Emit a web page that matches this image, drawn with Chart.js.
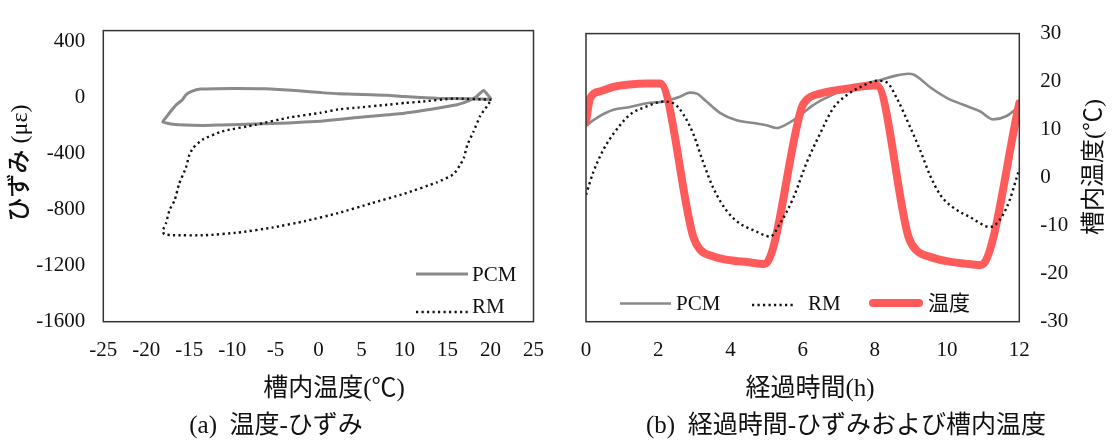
<!DOCTYPE html>
<html>
<head>
<meta charset="utf-8">
<script src="https://cdn.jsdelivr.net/npm/chart.js@4/dist/chart.umd.min.js"></script>
<style>
  html, body { margin: 0; padding: 0; background: #fff; }
  #wrap { position: relative; width: 1116px; height: 448px; overflow: hidden; }
  #wrap canvas { position: absolute; top: 0; }
  #cA { left: 0; }
  #cB { left: 560px; }
  .cap {
    position: absolute; top: 410px; line-height: 30px; white-space: nowrap;
    font-family: 'Liberation Serif', 'Noto Sans CJK JP', serif; font-size: 25px; color: #111;
    transform: translateX(-50%);
  }
</style>
</head>
<body>
<div id="wrap">
  <canvas id="cA" width="560" height="448"></canvas>
  <canvas id="cB" width="556" height="448"></canvas>
  <div class="cap" style="left:276px">(a)&nbsp; 温度-ひずみ</div>
  <div class="cap" style="left:846px">(b)&nbsp; 経過時間-ひずみおよび槽内温度</div>
</div>
<script>
// ---- (a) temperature vs strain loops ----
const pcmLoopTemp   = [20.1, 17.6, 13.8, 10.0, 8.0, 6.1, 4.2, 2.3, 0.3, -2.3, -6.2, -10.0, -13.7, -14.8, -15.4, -15.8, -16.5, -17.3, -17.7, -18.1,
                       -16.9, -13.5, -11.2, -7.3, -3.5, 0.3, 2.3, 6.1, 10.0, 13.8, 16.1, 17.6, 18.4, 19.2, 20.1];
const pcmLoopStrain = [-12, -7, -3, 9, 18, 21, 26, 28, 37, 50, 64, 67, 62, 44, 21, -14, -49, -107, -140, -171,
                       -190, -198, -194, -188, -180, -167, -155, -132, -110, -75, -50, -18, 10, 52, -12];
const rmLoopTemp    = [20.1, 15.7, 11.9, 10.0, 8.0, 4.2, 2.3, 0.3, -3.5, -7.3, -11.2, -13.5, -14.6, -15.0, -15.4, -16.2, -16.7, -17.3, -17.7, -18.1,
                       -17.9, -16.9, -13.1, -9.3, -5.4, -1.6, 2.3, 6.1, 10.0, 13.8, 15.7, 16.5, 16.9, 17.3, 18.0, 18.8, 19.6, 20.1];
const rmLoopStrain  = [-14, -6, -28, -37, -50, -72, -83, -107, -142, -193, -240, -300, -361, -408, -500, -616, -732, -801, -894, -951,
                       -975, -982, -982, -963, -928, -882, -824, -755, -685, -604, -547, -477, -431, -338, -246, -130, -60, -14];

// ---- (b) elapsed time series ----
const pcmHours  = [0, 0.30, 0.76, 1.22, 1.68, 2.14, 2.60, 2.88, 3.07, 3.34, 3.71, 4.17, 4.64, 5.0, 5.28, 5.56, 5.84, 6.30, 6.76, 7.22,
                   7.68, 8.14, 8.61, 8.93, 9.07, 9.53, 9.99, 10.45, 10.91, 11.28, 11.65, 12.0];
const pcmStrain = [-276, -226, -176, -159, -135, -125, -95, -69, -75, -125, -195, -242, -258, -272, -290, -266, -226, -145, -89, -45,
                   -15, 9, 39, 49, 45, -35, -101, -145, -185, -236, -215, -155];
const rmHours   = [0, 0.20, 0.48, 0.76, 1.22, 1.68, 2.14, 2.42, 2.70, 2.97, 3.25, 3.53, 3.90, 4.27, 4.64, 5.10, 5.37, 5.74, 6.11, 6.48,
                   6.85, 7.22, 7.68, 8.05, 8.33, 8.61, 8.98, 9.25, 9.53, 9.81, 10.17, 10.64, 11.19, 11.65, 12.0];
const rmStrain  = [-707, -567, -426, -326, -206, -155, -125, -135, -206, -326, -507, -667, -808, -888, -928, -968, -888, -727, -507, -326,
                   -165, -85, -25, 5, -5, -105, -286, -426, -587, -707, -787, -847, -908, -787, -547];
const tempHours = [0, 0.11, 0.40, 0.76, 1.20, 1.68, 2.05, 2.97, 3.16, 3.53, 3.99, 4.50, 4.91, 5.0, 5.97, 6.11, 6.48, 7.22, 7.96, 8.05,
                   8.93, 9.16, 9.53, 9.99, 10.50, 10.91, 11.0, 12.0];
const tempValue = [11.5, 16.5, 18.0, 18.9, 19.4, 19.6, 19.6, -12.3, -15.0, -16.4, -17.2, -17.6, -18.0, -17.8, 14.5, 16.2, 17.5, 18.5, 19.2, 19.2,
                   -12.3, -15.2, -16.5, -17.4, -17.9, -18.2, -18.0, 15.5];

// ---- tick labels ----
const strainTicks = [400, 0, -400, -800, -1200, -1600];
const loopTempTicks = [-25, -20, -15, -10, -5, 0, 5, 10, 15, 20, 25];
const hourTicks = [0, 2, 4, 6, 8, 10, 12];
const tempTicks = [30, 20, 10, 0, -10, -20, -30];

const SERIF = "'Liberation Serif', 'Noto Sans CJK JP', serif";
const TICK_FONT = { family: SERIF, size: 21 };
const INK = '#111';
const PCM_GRAY = '#8a8a8a';
const TEMP_RED = '#ff5b5b';

const pairs = (xs, ys) => xs.map((x, i) => ({ x, y: ys[i] }));
const fixTicks = list => scale => { scale.ticks = list.map(v => ({ value: v })); };
const plain = v => String(v);

// box around the plotting area
const framePlugin = {
  id: 'frame',
  afterDatasetsDraw(chart) {
    const { ctx, chartArea: a } = chart;
    ctx.save();
    ctx.strokeStyle = '#333';
    ctx.lineWidth = 1.5;
    ctx.strokeRect(a.left, a.top, a.right - a.left, a.bottom - a.top);
    ctx.restore();
  }
};

// series key drawn inside the plotting area
const keyPlugin = {
  id: 'key',
  afterDraw(chart, args, opts) {
    const ctx = chart.ctx;
    ctx.save();
    opts.items.forEach(it => {
      const ds = chart.data.datasets[it.index];
      ctx.beginPath();
      ctx.strokeStyle = ds.borderColor;
      ctx.lineWidth = it.width || ds.borderWidth;
      ctx.setLineDash(ds.borderDash || []);
      ctx.lineCap = it.cap || 'butt';
      ctx.moveTo(it.x1, it.y);
      ctx.lineTo(it.x2, it.y);
      ctx.stroke();
      ctx.setLineDash([]);
      ctx.fillStyle = INK;
      ctx.font = '21px ' + SERIF;
      ctx.textAlign = 'left';
      ctx.textBaseline = 'middle';
      ctx.fillText(ds.label, it.tx, it.ty);
    });
    ctx.restore();
  }
};

// axis titles
const titlePlugin = {
  id: 'axisTitles',
  afterDraw(chart, args, opts) {
    const ctx = chart.ctx;
    opts.items.forEach(t => {
      ctx.save();
      ctx.translate(t.x, t.y);
      ctx.rotate(t.rot || 0);
      ctx.fillStyle = INK;
      ctx.font = t.font;
      ctx.textAlign = 'center';
      ctx.textBaseline = 'middle';
      ctx.fillText(t.text, 0, 0);
      ctx.restore();
    });
  }
};

const common = {
  responsive: false,
  animation: false,
  events: [],
  plugins: { legend: { display: false }, tooltip: { enabled: false } }
};

// (a) temperature - strain
new Chart(document.getElementById('cA'), {
  type: 'line',
  data: {
    datasets: [
      { label: 'RM', data: pairs(rmLoopTemp, rmLoopStrain), borderColor: INK, borderWidth: 2.4,
        borderDash: [2.2, 3.3], pointRadius: 0, tension: 0.15, fill: false, order: 1 },
      { label: 'PCM', data: pairs(pcmLoopTemp, pcmLoopStrain), borderColor: PCM_GRAY, borderWidth: 3,
        pointRadius: 0, tension: 0.15, fill: false, order: 2 }
    ]
  },
  options: {
    ...common,
    layout: { padding: { top: 22.7, right: 22.7, left: 0, bottom: 0 } },
    scales: {
      x: {
        type: 'linear', position: 'bottom', min: -25, max: 25,
        afterBuildTicks: fixTicks(loopTempTicks),
        afterFit: s => { s.height = 126.3; },
        grid: { display: false, drawTicks: false }, border: { display: false },
        ticks: { font: TICK_FONT, color: INK, padding: 16, maxRotation: 0, autoSkip: false, callback: plain }
      },
      y: {
        type: 'linear', position: 'left', min: -1600, max: 480,
        afterBuildTicks: fixTicks(strainTicks),
        afterFit: s => { s.width = 103.3; },
        grid: { display: false, drawTicks: false }, border: { display: false },
        ticks: { font: TICK_FONT, color: INK, padding: 18, callback: plain }
      }
    },
    plugins: {
      ...common.plugins,
      key: { items: [
        { index: 1, x1: 416, x2: 468, y: 274, tx: 472, ty: 275 },
        { index: 0, x1: 416, x2: 468, y: 312, tx: 472, ty: 307 }
      ] },
      axisTitles: { items: [
        { text: 'ひずみ (με)', x: 21, y: 163, rot: -Math.PI / 2, font: '500 24px ' + SERIF },
        { text: '槽内温度(℃)', x: 334, y: 389, font: '25px ' + SERIF }
      ] }
    }
  },
  plugins: [framePlugin, keyPlugin, titlePlugin]
});

// (b) elapsed time - strain and chamber temperature
new Chart(document.getElementById('cB'), {
  type: 'line',
  data: {
    datasets: [
      { label: 'RM', data: pairs(rmHours, rmStrain), yAxisID: 'yS', borderColor: INK, borderWidth: 2.4,
        borderDash: [2.2, 3.3], pointRadius: 0, cubicInterpolationMode: 'monotone', fill: false, order: 1 },
      { label: '温度', data: pairs(tempHours, tempValue), yAxisID: 'yT', borderColor: TEMP_RED, borderWidth: 8,
        borderJoinStyle: 'round', borderCapStyle: 'round', pointRadius: 0, cubicInterpolationMode: 'monotone', fill: false, order: 2 },
      { label: 'PCM', data: pairs(pcmHours, pcmStrain), yAxisID: 'yS', borderColor: PCM_GRAY, borderWidth: 2.6,
        pointRadius: 0, cubicInterpolationMode: 'monotone', fill: false, order: 3 }
    ]
  },
  options: {
    ...common,
    layout: { padding: { top: 22.7, right: 0, left: 26, bottom: 0 } },
    scales: {
      x: {
        type: 'linear', position: 'bottom', min: 0, max: 12,
        afterBuildTicks: fixTicks(hourTicks),
        afterFit: s => { s.height = 126.3; },
        grid: { display: false, drawTicks: false }, border: { display: false },
        ticks: { font: TICK_FONT, color: INK, padding: 16, maxRotation: 0, autoSkip: false, callback: plain }
      },
      yS: { type: 'linear', position: 'left', display: false, min: -1500, max: 300 },
      yT: {
        type: 'linear', position: 'right', min: -30, max: 30,
        afterBuildTicks: fixTicks(tempTicks),
        afterFit: s => { s.width = 96.7; },
        grid: { display: false, drawTicks: false }, border: { display: false },
        ticks: { font: TICK_FONT, color: INK, padding: 21, callback: plain }
      }
    },
    plugins: {
      ...common.plugins,
      key: { items: [
        { index: 2, x1: 60, x2: 111, y: 303.5, tx: 116, ty: 304 },
        { index: 0, x1: 192, x2: 236, y: 305, tx: 248, ty: 304 },
        { index: 1, x1: 313, x2: 359, y: 303, width: 8, cap: 'round', tx: 368, ty: 304 }
      ] },
      axisTitles: { items: [
        { text: '経過時間(h)', x: 250, y: 389, font: '25px ' + SERIF },
        { text: '槽内温度(℃)', x: 535, y: 167, rot: -Math.PI / 2, font: '24px ' + SERIF }
      ] }
    }
  },
  plugins: [framePlugin, keyPlugin, titlePlugin]
});
</script>
</body>
</html>
